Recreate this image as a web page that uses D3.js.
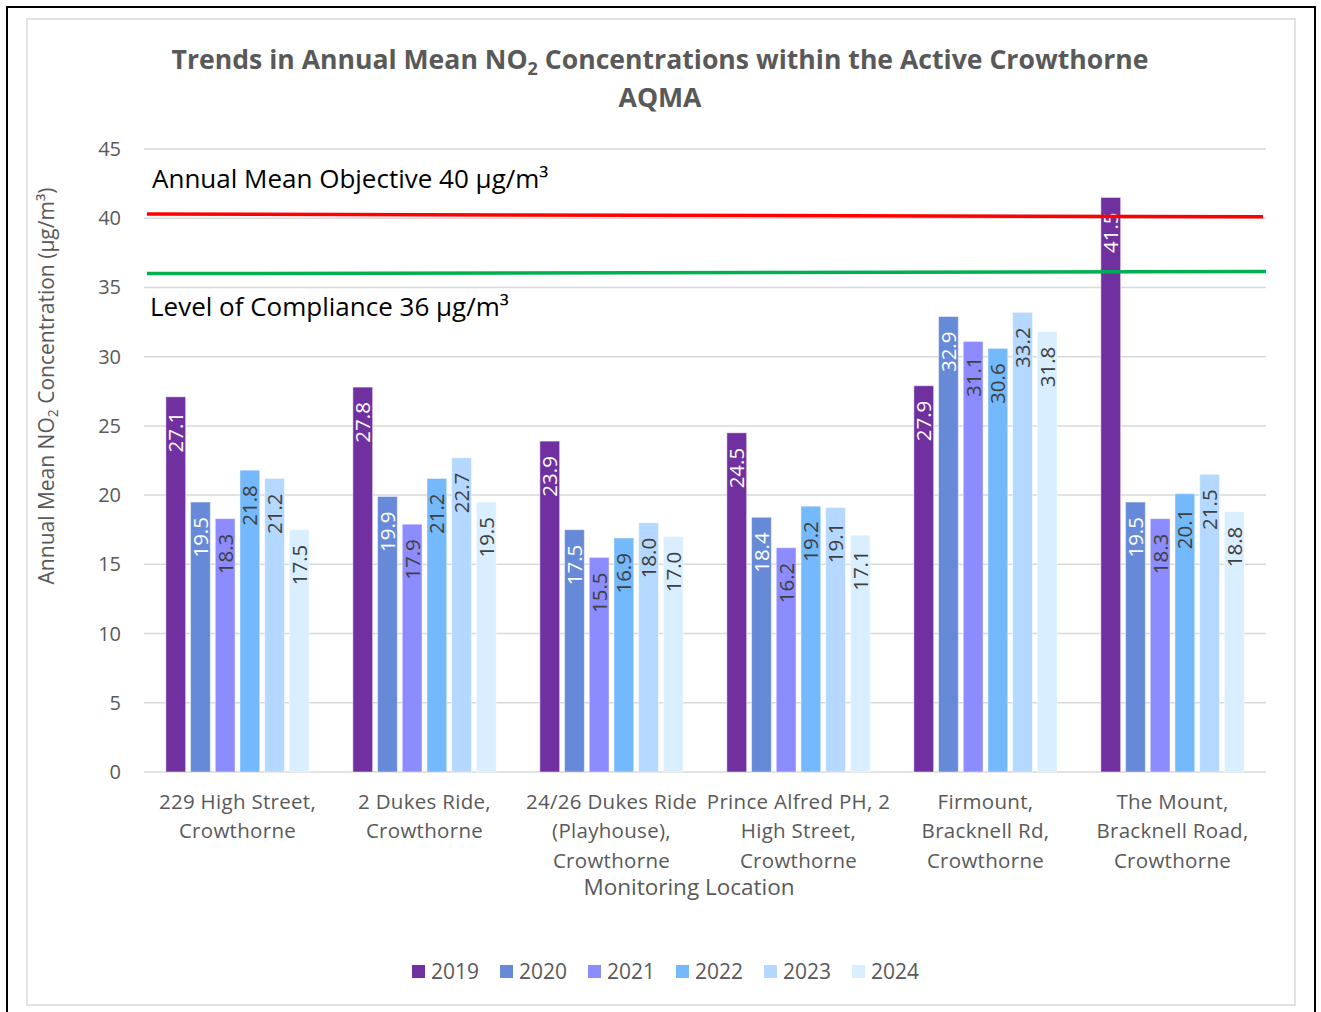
<!DOCTYPE html>
<html>
<head>
<meta charset="utf-8">
<script src="https://cdn.jsdelivr.net/npm/d3@7"></script>
<style>
  body { margin: 0; background: #fff; }
  text { font-family: "Open Sans", sans-serif; }
</style>
</head>
<body>
<div id="chart"></div>
<script>
//* data
var categories = [
  "229 High Street,\nCrowthorne",
  "2 Dukes Ride,\nCrowthorne",
  "24/26 Dukes Ride\n(Playhouse),\nCrowthorne",
  "Prince Alfred PH, 2\nHigh Street,\nCrowthorne",
  "Firmount,\nBracknell Rd,\nCrowthorne",
  "The Mount,\nBracknell Road,\nCrowthorne"
]
var years = ["2019", "2020", "2021", "2022", "2023", "2024"]
var v2019 = [27.1, 27.8, 23.9, 24.5, 27.9, 41.5]
var v2020 = [19.5, 19.9, 17.5, 18.4, 32.9, 19.5]
var v2021 = [18.3, 17.9, 15.5, 16.2, 31.1, 18.3]
var v2022 = [21.8, 21.2, 16.9, 19.2, 30.6, 20.1]
var v2023 = [21.2, 22.7, 18.0, 19.1, 33.2, 21.5]
var v2024 = [17.5, 19.5, 17.0, 17.1, 31.8, 18.8]
var yTicks = [0, 5, 10, 15, 20, 25, 30, 35, 40, 45]
// hand drawn lines in the original, slightly tilted
var objectiveLine = [40.3, 40.1]
var complianceLine = [36.0, 36.15]

var series = [v2019, v2020, v2021, v2022, v2023, v2024]
var colors = ["#7030A0", "#668AD8", "#8C8CFF", "#73B9FC", "#B4D8FF", "#D9EEFF"]
var labelColors = ["#fff", "#fff", "#404040", "#404040", "#404040", "#404040"]

var W = 1321, H = 1012
var svg = d3.select("#chart").append("svg")
  .attr("width", W).attr("height", H)

//* frames
svg.append("rect").attr("x", 7).attr("y", 7).attr("width", 1308).attr("height", 1020)
  .attr("fill", "#fff").attr("stroke", "#000").attr("stroke-width", 2)
svg.append("rect").attr("x", 27).attr("y", 19).attr("width", 1268).attr("height", 986)
  .attr("fill", "#fff").attr("stroke", "#D9D9D9").attr("stroke-width", 1.5)

//* scales
var x0 = d3.scaleBand().domain(d3.range(categories.length)).range([144, 1266])
var x1 = d3.scaleBand().domain(years).range([0, x0.bandwidth()])
  .paddingInner(0.2).paddingOuter(0.885)
var y = d3.scaleLinear().domain([0, 45]).range([772, 149])

//* gridlines
svg.append("g").selectAll("line").data(yTicks).enter().append("line")
  .attr("x1", 144).attr("x2", 1266)
  .attr("y1", function(d){ return y(d) }).attr("y2", function(d){ return y(d) })
  .attr("stroke", "#D9D9D9").attr("stroke-width", 1.5)

svg.append("g").selectAll("text").data(yTicks).enter().append("text")
  .attr("x", 121).attr("y", function(d){ return y(d) })
  .attr("dy", "0.35em").attr("text-anchor", "end")
  .attr("font-size", "20px").attr("fill", "#595959")
  .text(function(d){ return d })

//* bars
var barData = []
series.forEach(function(vals, si) {
  vals.forEach(function(v, ci) {
    barData.push({ci: ci, si: si, year: years[si], value: v})
  })
})

var bars = svg.append("g")
bars.selectAll("rect").data(barData).enter().append("rect")
  .attr("x", function(d){ return x0(d.ci) + x1(d.year) })
  .attr("y", function(d){ return y(d.value) })
  .attr("width", x1.bandwidth())
  .attr("height", function(d){ return y(0) - y(d.value) })
  .attr("fill", function(d){ return colors[d.si] })
  .attr("stroke", "#fff").attr("stroke-opacity", 0.45).attr("stroke-width", 1)

var fmt = d3.format(".1f")
bars.selectAll("text").data(barData).enter().append("text")
  .attr("transform", function(d){
    var cx = x0(d.ci) + x1(d.year) + x1.bandwidth() / 2
    return "translate(" + cx + "," + (y(d.value) + 15) + ") rotate(-90)"
  })
  .attr("dy", "0.36em").attr("text-anchor", "end")
  .attr("font-size", "20.5px")
  .attr("fill", function(d){ return labelColors[d.si] })
  .text(function(d){ return fmt(d.value) })

//* objective + compliance lines
svg.append("line")
  .attr("x1", 147).attr("x2", 1263)
  .attr("y1", y(objectiveLine[0])).attr("y2", y(objectiveLine[1]))
  .attr("stroke", "#FF0000").attr("stroke-width", 3.5)
svg.append("line")
  .attr("x1", 147).attr("x2", 1266)
  .attr("y1", y(complianceLine[0])).attr("y2", y(complianceLine[1]))
  .attr("stroke", "#00B050").attr("stroke-width", 3.5)

svg.append("text").attr("x", 152).attr("y", 188)
  .attr("font-family", "Lato, sans-serif").attr("font-size", "26px").attr("fill", "#000")
  .text("Annual Mean Objective 40 µg/m³")
svg.append("text").attr("x", 150).attr("y", 316)
  .attr("font-family", "Lato, sans-serif").attr("font-size", "26px").attr("fill", "#000")
  .text("Level of Compliance 36 µg/m³")

//* category labels
var catG = svg.append("g").selectAll("text").data(categories).enter().append("text")
  .attr("text-anchor", "middle").attr("font-size", "20.5px").attr("fill", "#595959")
  .attr("letter-spacing", "0.3px")
catG.selectAll("tspan").data(function(d, i){
    return d.split("\n").map(function(s){ return {s: s, i: i} })
  }).enter().append("tspan")
  .attr("x", function(d){ return x0(d.i) + x0.bandwidth() / 2 })
  .attr("y", function(d, j){ return 809 + j * 29.3 })
  .text(function(d){ return d.s })

svg.append("text").attr("x", 689).attr("y", 895)
  .attr("text-anchor", "middle").attr("font-size", "22.5px").attr("fill", "#595959")
  .text("Monitoring Location")

//* y axis title
var yt = svg.append("text")
  .attr("transform", "translate(54,386) rotate(-90)")
  .attr("text-anchor", "middle").attr("font-size", "21px").attr("fill", "#595959")
yt.append("tspan").text("Annual Mean NO")
yt.append("tspan").attr("font-size", "14px").attr("dy", "4").text("2")
yt.append("tspan").attr("dy", "-4").text(" Concentration (µg/m³)")

//* title
var t1 = svg.append("text").attr("x", 660).attr("y", 69)
  .attr("text-anchor", "middle").attr("font-family", "Lato, sans-serif")
  .attr("font-weight", "bold").attr("font-size", "26.6px").attr("fill", "#595959")
t1.append("tspan").text("Trends in Annual Mean NO")
t1.append("tspan").attr("font-size", "18px").attr("dy", "6").text("2")
t1.append("tspan").attr("dy", "-6").text(" Concentrations within the Active Crowthorne")
svg.append("text").attr("x", 660).attr("y", 107)
  .attr("text-anchor", "middle").attr("font-family", "Lato, sans-serif")
  .attr("font-weight", "bold").attr("font-size", "26.6px").attr("fill", "#595959")
  .text("AQMA")

//* legend
var leg = svg.append("g").selectAll("g").data(years).enter().append("g")
  .attr("transform", function(d, i){ return "translate(" + (412 + i * 88) + ",965)" })
leg.append("rect").attr("width", 13).attr("height", 13)
  .attr("fill", function(d, i){ return colors[i] })
leg.append("text").attr("x", 19).attr("y", 6.5).attr("dy", "0.36em")
  .attr("font-size", "21px").attr("fill", "#595959")
  .text(function(d){ return d })
</script>
</body>
</html>
